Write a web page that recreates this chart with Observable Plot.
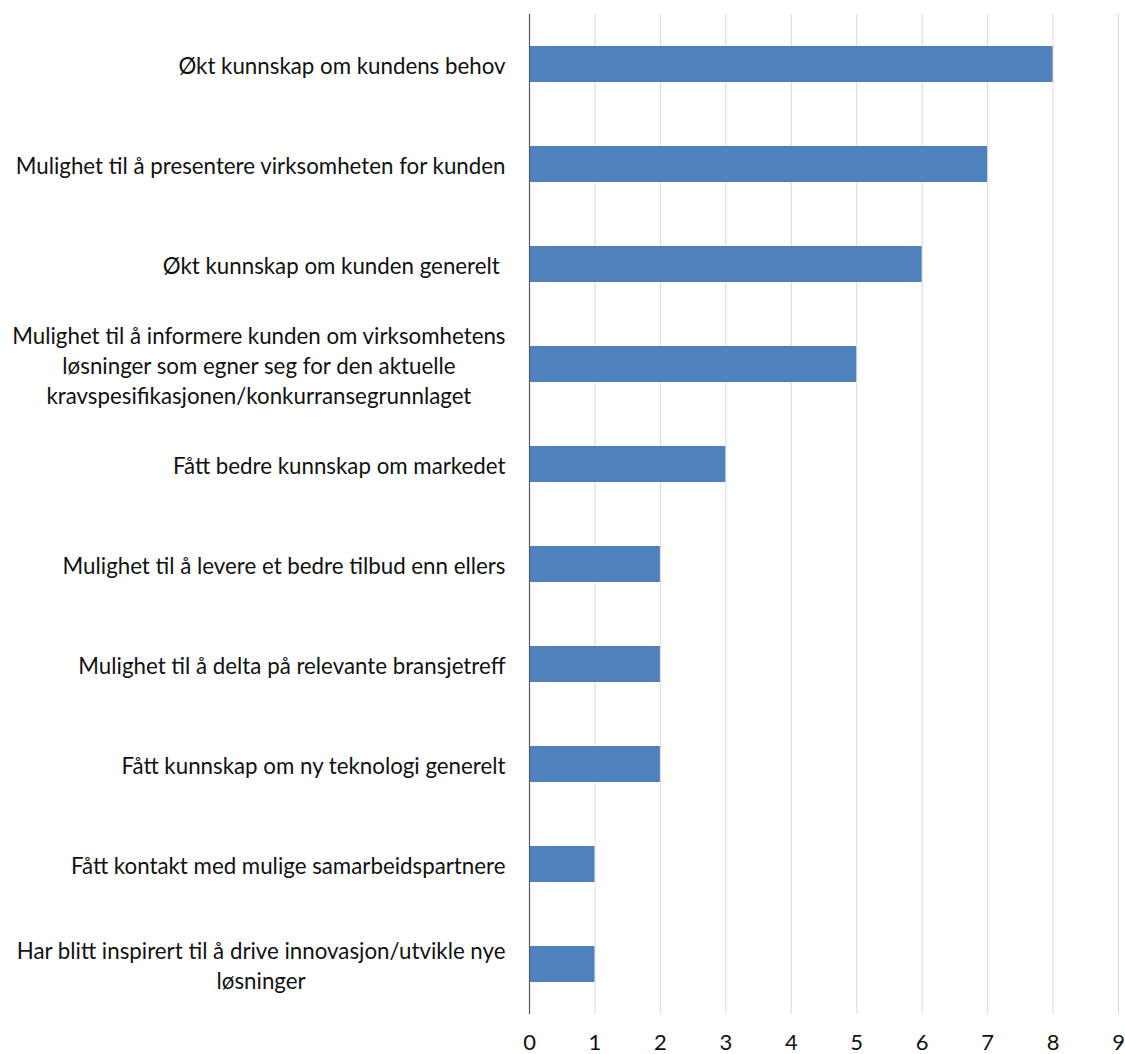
<!DOCTYPE html>
<html><head><meta charset="utf-8">
<script src="https://cdn.jsdelivr.net/npm/d3@7"></script>
<script src="https://cdn.jsdelivr.net/npm/@observablehq/plot@0.6"></script>
<style>body{margin:0;background:#fff}</style>
</head><body><div id="chart"></div>
<script>
const categories = [
  "Økt kunnskap om kundens behov",
  "Mulighet til å presentere virksomheten for kunden",
  "Økt kunnskap om kunden generelt ",
  "Mulighet til å informere kunden om virksomhetens\nløsninger som egner seg for den aktuelle\nkravspesifikasjonen/konkurransegrunnlaget",
  "Fått bedre kunnskap om markedet",
  "Mulighet til å levere et bedre tilbud enn ellers",
  "Mulighet til å delta på relevante bransjetreff",
  "Fått kunnskap om ny teknologi generelt",
  "Fått kontakt med mulige samarbeidspartnere",
  "Har blitt inspirert til å drive innovasjon/utvikle nye\nløsninger"
];
const values = [8, 7, 6, 5, 3, 2, 2, 2, 1, 1];
const xTicks = [0, 1, 2, 3, 4, 5, 6, 7, 8, 9];
const gridTicks = [1, 2, 3, 4, 5, 6, 7, 8, 9];

const data = categories.map((c, i) => ({category: c, value: values[i]}));

const chart = Plot.plot({
  width: 1125,
  height: 1054,
  marginLeft: 529,
  marginRight: 7,
  marginTop: 14,
  marginBottom: 40,
  style: {fontFamily: "Lato, sans-serif", color: "#111", background: "#fff"},
  x: {domain: [0, 9], label: null},
  y: {domain: categories, paddingInner: 0.64, paddingOuter: 0.32, label: null},
  marks: [
    Plot.ruleX(gridTicks, {stroke: "#d9d9d9", strokeWidth: 1}),
    Plot.barX(data, {y: "category", x: "value", fill: "#4f81bd"}),
    Plot.ruleX([0], {stroke: "#595959", strokeWidth: 1.2}),
    Plot.ruleY([0], {frameAnchor: "bottom", stroke: "#595959", strokeWidth: 1.2}),
    Plot.axisX({ticks: xTicks, tickSize: 0, tickPadding: 20, fontSize: 22, label: null}),
    Plot.axisY({tickSize: 0, tickPadding: 24, fontSize: 22.3, lineHeight: 1.35, label: null})
  ]
});
document.getElementById("chart").appendChild(chart);

// Center lines of multi-line y labels within their block (as in the original)
chart.querySelectorAll('g[aria-label="y-axis tick label"] text').forEach(t => {
  const spans = t.querySelectorAll("tspan");
  if (spans.length > 1) {
    let W = 0;
    spans.forEach(s => { W = Math.max(W, s.getComputedTextLength()); });
    t.setAttribute("text-anchor", "middle");
    spans.forEach(s => s.setAttribute("x", -W / 2));
  }
});
</script>
</body></html>
